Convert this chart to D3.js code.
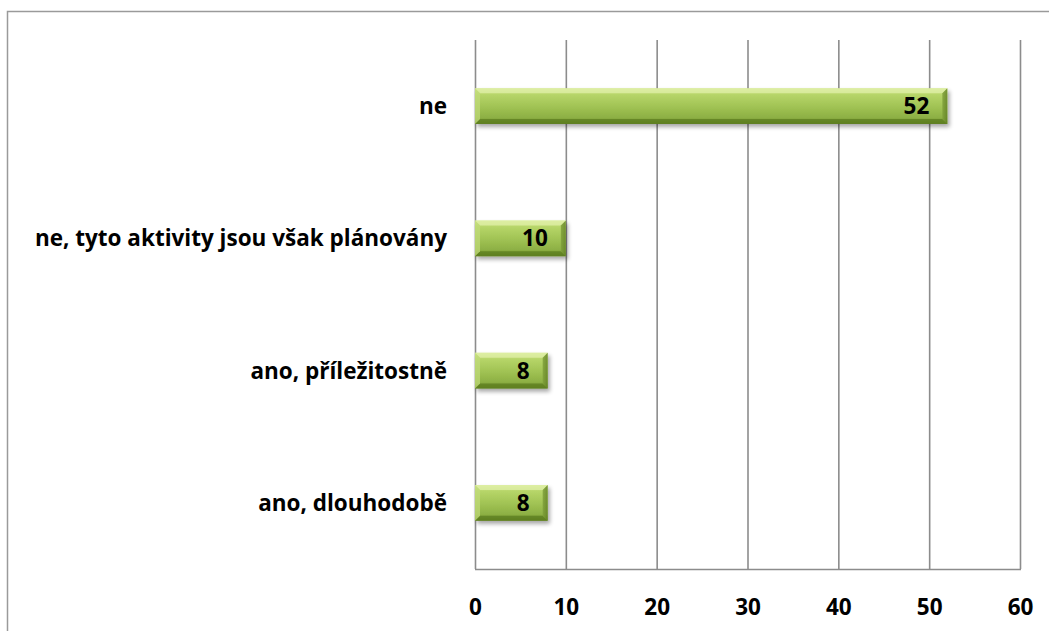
<!DOCTYPE html>
<html>
<head>
<meta charset="utf-8">
<script src="https://cdn.jsdelivr.net/npm/d3@7"></script>
<style>
  html, body { margin: 0; padding: 0; background: #fff; }
  svg { display: block; }
</style>
</head>
<body>
<svg id="chart" width="1049" height="631"></svg>
<script>
// Answers (top to bottom) and their counts
const categories = ["ne", "ne, tyto aktivity jsou však plánovány", "ano, příležitostně", "ano, dlouhodobě"];
const values = [52, 10, 8, 8];
const tickValues = [0, 10, 20, 30, 40, 50, 60];

const W = 1049, H = 631;
const margin = { left: 475, right: 29, top: 40, bottom: 62 };
const svg = d3.select("#chart");
const font = "'Open Sans', Lato, sans-serif";
const fontSize = 22.5;

// Outer frame (top and left edges)
svg.append("path")
  .attr("d", `M7.5,${H} L7.5,11.5 L${W},11.5`)
  .attr("fill", "none").attr("stroke", "#9a9a9a").attr("stroke-width", 1.5);

const x = d3.scaleLinear().domain([0, 60]).range([margin.left, W - margin.right]);
const y = d3.scaleBand().domain(categories).range([margin.top, H - margin.bottom]).paddingInner(0.73).paddingOuter(0.365);

const defs = svg.append("defs");
const grad = defs.append("linearGradient").attr("id", "barGrad").attr("x1", 0).attr("y1", 0).attr("x2", 0).attr("y2", 1);
[[0, "#d2e88c"], [0.18, "#b6d568"], [0.5, "#a2c455"], [0.82, "#8db044"], [1, "#6a8a28"]]
  .forEach(([o, c]) => grad.append("stop").attr("offset", o).attr("stop-color", c));
const side = defs.append("linearGradient").attr("id", "sideGrad").attr("x1", 0).attr("y1", 0).attr("x2", 1).attr("y2", 0);
side.append("stop").attr("offset", 0).attr("stop-color", "#7e9e3a");
side.append("stop").attr("offset", 1).attr("stop-color", "#5f7f22");
const shadow = defs.append("filter").attr("id", "shadow").attr("x", "-10%").attr("y", "-30%").attr("width", "130%").attr("height", "180%");
shadow.append("feGaussianBlur").attr("in", "SourceAlpha").attr("stdDeviation", 2.2).attr("result", "b");
shadow.append("feOffset").attr("in", "b").attr("dx", 2).attr("dy", 3).attr("result", "o");
shadow.append("feComponentTransfer").attr("in", "o").attr("result", "s")
  .append("feFuncA").attr("type", "linear").attr("slope", 0.35);
const merge = shadow.append("feMerge");
merge.append("feMergeNode").attr("in", "s");
merge.append("feMergeNode").attr("in", "SourceGraphic");

// Vertical gridlines
svg.append("g").selectAll("line").data(tickValues).join("line")
  .attr("x1", d => x(d) + 0.5).attr("x2", d => x(d) + 0.5)
  .attr("y1", margin.top).attr("y2", H - margin.bottom)
  .attr("stroke", "#8c8c8c").attr("stroke-width", 1.6);

// Bottom axis line
svg.append("line")
  .attr("x1", x(0)).attr("x2", x(60) + 1)
  .attr("y1", H - margin.bottom + 0.5).attr("y2", H - margin.bottom + 0.5)
  .attr("stroke", "#8c8c8c").attr("stroke-width", 1.6);

// Tick labels
const xAxis = d3.axisBottom(x).tickValues(tickValues).tickSize(0).tickPadding(0);
const ax = svg.append("g").attr("transform", `translate(0,${H - margin.bottom})`).call(xAxis);
ax.select(".domain").remove();
ax.selectAll("text")
  .attr("y", 38).attr("dy", "0.36em")
  .attr("font-family", font).attr("font-weight", "bold").attr("font-size", fontSize).attr("fill", "#000");

// Bars with bevelled edges
const bars = svg.append("g").selectAll("g").data(categories).join("g")
  .attr("filter", "url(#shadow)");
const bev = 5;
bars.each(function (c, i) {
  const g = d3.select(this);
  const x0 = x(0), x1 = x(values[i]), y0 = y(c), h = y.bandwidth(), y1 = y0 + h;
  g.append("rect").attr("x", x0).attr("y", y0).attr("width", x1 - x0).attr("height", h).attr("fill", "url(#barGrad)");
  // top bevel highlight
  g.append("path").attr("d", `M${x0},${y0} L${x1},${y0} L${x1 - bev},${y0 + bev} L${x0 + bev},${y0 + bev} Z`)
    .attr("fill", "#e2f1ac").attr("opacity", 0.7);
  // bottom bevel shade
  g.append("path").attr("d", `M${x0},${y1} L${x1},${y1} L${x1 - bev},${y1 - bev} L${x0 + bev},${y1 - bev} Z`)
    .attr("fill", "#5a7a1e").attr("opacity", 0.7);
  // left bevel
  g.append("path").attr("d", `M${x0},${y0} L${x0 + bev},${y0 + bev} L${x0 + bev},${y1 - bev} L${x0},${y1} Z`)
    .attr("fill", "#c2dc7c").attr("opacity", 0.7);
  // right bevel
  g.append("path").attr("d", `M${x1},${y0} L${x1 - bev},${y0 + bev} L${x1 - bev},${y1 - bev} L${x1},${y1} Z`)
    .attr("fill", "url(#sideGrad)").attr("opacity", 0.8);
});

// Value labels inside the bar end
svg.append("g").selectAll("text").data(categories).join("text")
  .attr("x", (c, i) => x(values[i]) - 18)
  .attr("y", c => y(c) + y.bandwidth() / 2)
  .attr("dy", "0.36em")
  .attr("text-anchor", "end")
  .attr("font-family", font).attr("font-weight", "bold").attr("font-size", fontSize).attr("fill", "#000")
  .text((c, i) => values[i]);

// Category labels
svg.append("g").selectAll("text").data(categories).join("text")
  .attr("x", margin.left - 28)
  .attr("y", c => y(c) + y.bandwidth() / 2)
  .attr("dy", "0.36em")
  .attr("text-anchor", "end")
  .attr("font-family", font).attr("font-weight", "bold").attr("font-size", fontSize).attr("fill", "#000")
  .text(c => c);
</script>
</body>
</html>
